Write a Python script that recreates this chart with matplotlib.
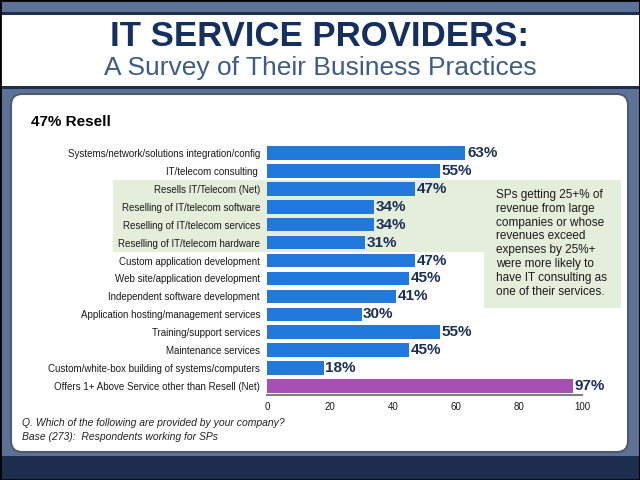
import matplotlib.pyplot as plt
import matplotlib.patches as mpatches
import matplotlib.transforms as mtransforms

plt.rcParams['font.family'] = ['Liberation Sans', 'DejaVu Sans']

categories = ['Systems/network/solutions integration/config',
              'IT/telecom consulting ',
              'Resells IT/Telecom (Net)',
              'Reselling of IT/telecom software',
              'Reselling of IT/telecom services',
              'Reselling of IT/telecom hardware',
              'Custom application development',
              'Web site/application development',
              'Independent software development',
              'Application hosting/management services',
              'Training/support services',
              'Maintenance services',
              'Custom/white-box building of systems/computers',
              'Offers 1+ Above Service other than Resell (Net)']
values = [63, 55, 47, 34, 34, 31, 47, 45, 41, 30, 55, 45, 18, 97]
xticks = [0, 20, 40, 60, 80, 100]

note = ("SPs getting 25+% of\nrevenue from large\ncompanies or whose\nrevenues exceed\n"
        "expenses by 25%+\nwere more likely to\nhave IT consulting as\none of their services.")

W, H = 640, 480
slate = '#5d7297'
navy = '#1d2d4e'
blue = '#2279dc'
purple = '#a84fb3'
green = '#e5eddb'
txtblue = '#1b2f58'

fig = plt.figure(figsize=(6.4, 4.8), dpi=100, facecolor=slate)


def fx(x):
    return x / W


def fy(y):
    return 1 - y / H


def frect(x0, y0, x1, y1, color, z=0):
    fig.patches.append(mpatches.Rectangle((fx(x0), fy(y1)), fx(x1) - fx(x0), fy(y0) - fy(y1),
                                          transform=fig.transFigure, facecolor=color,
                                          edgecolor='none', zorder=z))


# header band
frect(0, 12, W, 15, navy)
frect(0, 15, W, 86, 'white')
frect(0, 86, W, 89, navy)
# bottom band
frect(0, 456, W, 479, navy)

# white rounded panel (pixel coords, y from bottom)
panel = mpatches.FancyBboxPatch((11, H - 452), 617, 358,
                                boxstyle='round,pad=0,rounding_size=11',
                                transform=mtransforms.IdentityTransform(),
                                facecolor='white', edgecolor='#505a6a', linewidth=1.5, zorder=1)
fig.patches.append(panel)

# outer border
fig.patches.append(mpatches.Rectangle((0, 0), 1, 1, transform=fig.transFigure, fill=False,
                                      edgecolor='black', linewidth=2, zorder=10))

fig.text(0.5, fy(37), 'IT SERVICE PROVIDERS:', ha='center', va='center',
         fontsize=25, fontweight='bold', color='#152f5e')
fig.text(0.5, fy(68), 'A Survey of Their Business Practices', ha='center', va='center',
         fontsize=19, color='#3e5d85')

fig.text(fx(31), fy(122), '47% Resell', ha='left', va='center', fontsize=11,
         fontweight='bold', color='black', zorder=3)

ax = fig.add_axes([fx(267), fy(395), fx(582) - fx(267), fy(144) - fy(395)])
ax.set_zorder(3)
ax.patch.set_alpha(0)

pos = list(range(len(categories)))
colors = [blue] * (len(values) - 1) + [purple]
bars = ax.barh(pos, values, height=0.76, color=colors, zorder=3)
ax.set_xlim(0, 100)
ax.set_ylim(len(categories) - 0.5, -0.5)
ax.set_yticks(pos)
ax.set_yticklabels(categories, fontsize=7, color='#1a1a1a')
ax.set_xticks(xticks)
ax.set_xticklabels([str(t) for t in xticks], fontsize=7, color='#1a1a1a')
ax.tick_params(length=0)
ax.tick_params(axis='y', pad=5)
ax.tick_params(axis='x', pad=5)
for s in ['top', 'right', 'left']:
    ax.spines[s].set_visible(False)
ax.spines['bottom'].set_color('#7a7f88')
ax.spines['bottom'].set_linewidth(1.5)

for b, v in zip(bars, values):
    ax.text(v + 0.5, b.get_y() + b.get_height() / 2, f'{v}%', va='center', ha='left',
            fontsize=11, fontweight='bold', color=txtblue, zorder=4)

# green highlight behind resell rows, plus note box
blend = mtransforms.blended_transform_factory(fig.transFigure, ax.transData)
fig.patches.append(mpatches.Rectangle((fx(113), 1.5), fx(621) - fx(113), 4,
                                      transform=blend, facecolor=green, edgecolor='none', zorder=2))
frect(484, 180, 621, 308, green, z=2)
fig.text(fx(496), fy(189), note, ha='left', va='top', fontsize=8.5, color='#1a1a1a',
         linespacing=1.2, zorder=3)

fig.text(fx(22), fy(423), 'Q. Which of the following are provided by your company?',
         ha='left', va='center', fontsize=7.5, style='italic', color='#222222', zorder=3)
fig.text(fx(22), fy(437), 'Base (273):  Respondents working for SPs',
         ha='left', va='center', fontsize=7.5, style='italic', color='#222222', zorder=3)

fig.savefig('out.png', dpi=100, facecolor=slate)
